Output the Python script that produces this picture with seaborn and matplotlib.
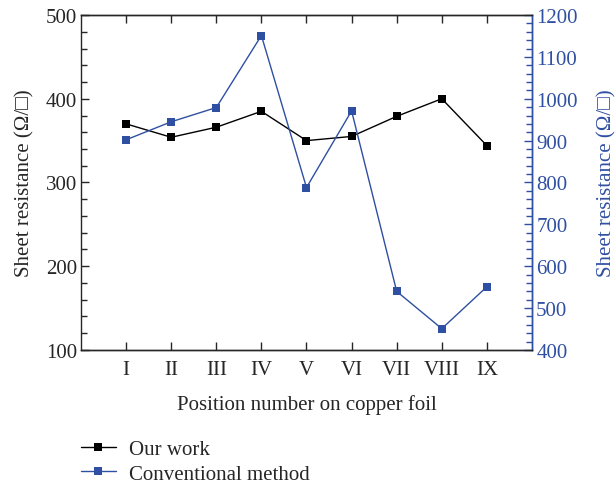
import pandas as pd
import matplotlib.pyplot as plt
import seaborn as sns
from matplotlib.ticker import MultipleLocator
from matplotlib.lines import Line2D

# Data
positions = ["I", "II", "III", "IV", "V", "VI", "VII", "VIII", "IX"]
our_work = [370, 354, 366, 385, 350, 355, 379, 400, 344]
conventional = [902, 945, 979, 1151, 788, 971, 540, 451, 551]

black = "#000000"
blue = "#2f4fa2"

sns.set_style("ticks")
plt.rcParams["font.family"] = ["Liberation Serif", "DejaVu Serif"]
plt.rcParams["mathtext.fontset"] = "dejavuserif"

df = pd.DataFrame({
    "x": range(1, len(positions) + 1),
    "our": our_work,
    "conv": conventional,
})

fig = plt.figure(figsize=(6.16, 4.85), dpi=100)
ax = fig.add_axes([0.1315, 0.2763, 0.7321, 0.6907])
ax2 = ax.twinx()

sns.lineplot(data=df, x="x", y="our", ax=ax, color=black, marker="s",
             markersize=6, markeredgewidth=0, linewidth=1)
sns.lineplot(data=df, x="x", y="conv", ax=ax2, color=blue, marker="s",
             markersize=6, markeredgewidth=0, linewidth=1)

ax.set_xlim(0, 10)
ax.set_xticks(df["x"])
ax.set_xticklabels(positions)
ax.set_ylim(100, 500)
ax.yaxis.set_major_locator(MultipleLocator(100))
ax.yaxis.set_minor_locator(MultipleLocator(20))
ax2.set_ylim(400, 1200)
ax2.yaxis.set_major_locator(MultipleLocator(100))
ax2.yaxis.set_minor_locator(MultipleLocator(20))

fs = 15
ax.set_xlabel("Position number on copper foil", fontsize=fs, labelpad=11)
ax.set_ylabel("Sheet resistance (Ω/□)", fontsize=fs, labelpad=8)
ax2.set_ylabel("Sheet resistance (Ω/□)", fontsize=fs, color=blue, labelpad=14)

ax.tick_params(axis="x", which="major", direction="in", length=6, width=1,
               top=True, labelsize=fs, pad=7)
ax.tick_params(axis="y", which="major", direction="in", length=6, width=1,
               labelsize=fs, pad=3)
ax.tick_params(axis="y", which="minor", direction="in", length=4, width=1)
ax2.tick_params(axis="y", which="major", direction="in", length=6, width=1,
                colors=blue, labelsize=fs, pad=3)
ax2.tick_params(axis="y", which="minor", direction="in", length=4, width=1,
                colors=blue)

for a in (ax, ax2):
    for s in a.spines.values():
        s.set_linewidth(1)
        s.set_visible(True)
ax2.spines["right"].set_color(blue)
ax2.spines["left"].set_visible(False)

handles = [
    Line2D([], [], color=black, marker="s", markersize=6, markeredgewidth=0, linewidth=1),
    Line2D([], [], color=blue, marker="s", markersize=6, markeredgewidth=0, linewidth=1),
]
fig.legend(handles, ["Our work", "Conventional method"], loc="upper left",
           bbox_to_anchor=(0.131, 0.092), frameon=False, fontsize=fs,
           borderpad=0, borderaxespad=0,
           handlelength=1.7, handletextpad=0.6, labelspacing=0.25)

fig.savefig("out.png", dpi=100)
